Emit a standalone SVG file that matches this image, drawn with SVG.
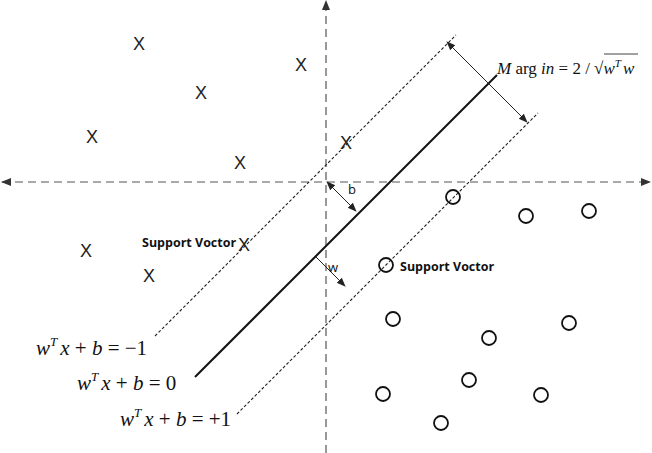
<svg xmlns="http://www.w3.org/2000/svg" width="652" height="453" viewBox="0 0 652 453">
<style>
.axis{stroke:#555;stroke-width:1.2;stroke-dasharray:8 5;fill:none}
.mline{stroke:#222;stroke-width:1.1;stroke-dasharray:3 2;fill:none}
.main{stroke:#111;stroke-width:2;fill:none}
.arr{stroke:#222;stroke-width:1;fill:none}
.xm{font-family:"Liberation Sans",Arial,sans-serif;font-size:18px;fill:#222;text-anchor:middle}
.om{fill:none;stroke:#111;stroke-width:1.8}
.sv{font-family:"Open Sans","Liberation Sans",sans-serif;font-size:12.5px;font-weight:bold;fill:#111}
.lbl{font-family:"Open Sans","Liberation Sans",sans-serif;font-size:13px;fill:#111}
.eq{font-family:"Liberation Serif","Times New Roman",serif;font-size:21px;fill:#111}
.eqm{font-family:"Liberation Serif","Times New Roman",serif;font-size:17px;fill:#111}
</style>
<defs>
<marker id="ah" viewBox="0 0 10 10" refX="9" refY="5" markerWidth="9" markerHeight="9" markerUnits="userSpaceOnUse" orient="auto-start-reverse"><path d="M0,1 L10,5 L0,9 z" fill="#222"/></marker>
<marker id="ax" viewBox="0 0 10 10" refX="9" refY="5" markerWidth="10" markerHeight="10" markerUnits="userSpaceOnUse" orient="auto-start-reverse"><path d="M0,1 L10,5 L0,9 z" fill="#333"/></marker>
</defs>
<rect width="652" height="453" fill="#fff"/>
<g id="connectors">
<line class="axis" x1="2" y1="182" x2="650" y2="182" marker-start="url(#ax)" marker-end="url(#ax)"/>
<line class="axis" x1="326" y1="453" x2="326" y2="1" marker-end="url(#ax)"/>
<line class="mline" x1="155" y1="336" x2="456" y2="35"/>
<line class="main" x1="195" y1="377" x2="497" y2="75"/>
<line class="mline" x1="237" y1="414" x2="538" y2="113"/>
<line class="arr" x1="447" y1="42" x2="527" y2="122" marker-start="url(#ah)" marker-end="url(#ah)"/>
<line class="arr" x1="327" y1="182" x2="356" y2="211" marker-start="url(#ah)" marker-end="url(#ah)"/>
<line class="arr" x1="316" y1="257" x2="345" y2="286" marker-end="url(#ah)"/>
</g>
<g id="negatives">
<text class="xm" x="139" y="50">X</text>
<text class="xm" x="301" y="71">X</text>
<text class="xm" x="201" y="99">X</text>
<text class="xm" x="92" y="143">X</text>
<text class="xm" x="240" y="169">X</text>
<text class="xm" x="346" y="149">X</text>
<text class="xm" x="86" y="257">X</text>
<text class="xm" x="244" y="251">X</text>
<text class="xm" x="149" y="282">X</text>
</g>
<g id="positives">
<circle class="om" cx="453" cy="197" r="7"/>
<circle class="om" cx="526" cy="216" r="7"/>
<circle class="om" cx="589" cy="211" r="7"/>
<circle class="om" cx="386" cy="265" r="7"/>
<circle class="om" cx="393" cy="319" r="7"/>
<circle class="om" cx="489" cy="338" r="7"/>
<circle class="om" cx="569" cy="323" r="7"/>
<circle class="om" cx="469" cy="380" r="7"/>
<circle class="om" cx="383" cy="394" r="7"/>
<circle class="om" cx="541" cy="395" r="7"/>
<circle class="om" cx="441" cy="423" r="7"/>
</g>
<g id="labels">
<text class="sv" x="142" y="247">Support Voctor</text>
<text class="sv" x="400" y="271">Support Voctor</text>
<text class="lbl" x="348" y="194">b</text>
<text class="lbl" x="328" y="272">w</text>
<text class="eq" x="36" y="355"><tspan font-style="italic">w</tspan><tspan font-style="italic" font-size="13" dy="-9">T</tspan><tspan dy="9" dx="3" font-style="italic">x</tspan> + <tspan font-style="italic">b</tspan> = −1</text>
<text class="eq" x="77" y="390"><tspan font-style="italic">w</tspan><tspan font-style="italic" font-size="13" dy="-9">T</tspan><tspan dy="9" dx="3" font-style="italic">x</tspan> + <tspan font-style="italic">b</tspan> = 0</text>
<text class="eq" x="120" y="426"><tspan font-style="italic">w</tspan><tspan font-style="italic" font-size="13" dy="-9">T</tspan><tspan dy="9" dx="3" font-style="italic">x</tspan> + <tspan font-style="italic">b</tspan> = +1</text>
<text class="eqm" x="497" y="74"><tspan font-style="italic">M</tspan> arg <tspan font-style="italic">in</tspan> = 2 / √<tspan font-style="italic">w</tspan><tspan font-style="italic" font-size="11" dy="-7">T</tspan><tspan dy="7" dx="2" font-style="italic">w</tspan></text>
<line x1="604" y1="54" x2="638" y2="54" stroke="#111" stroke-width="0.8"/>
</g>
</svg>
